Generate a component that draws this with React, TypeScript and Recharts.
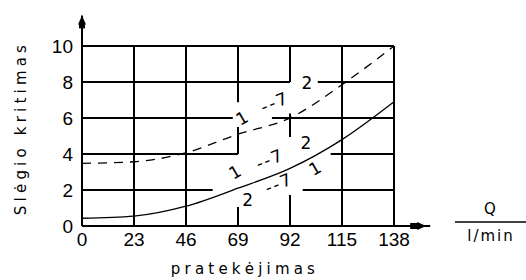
import React from "react";
import { LineChart, Line, XAxis, YAxis, ReferenceLine, ReferenceDot } from "recharts";

// Flow Q (l/min) categories and tick labels
const flowTicks = [0, 23, 46, 69, 92, 115, 138];
const pressureTicks = [0, 2, 4, 6, 8, 10];
const pressureTickLabels = ["0", "2", "4", "6", "8", "10"];

// Pressure drop curves
const curveSolid = [0.43, 0.55, 1.1, 2.1, 3.2, 4.8, 6.9];
const curveDashed = [3.48, 3.57, 4.07, 5.1, 6.0, 7.85, 10];

// Flow-direction annotations (label text and data-space anchors)
const annoText = ["1", "--7", "2", "1", "--7", "2", "1", "--7", "2"];
const annoQ = [70.7, 85.3, 99.5, 67.6, 83.1, 99.0, 103, 87.1, 73.3];
const annoP = [6.0, 6.88, 7.93, 3.0, 3.72, 4.6, 3.2, 2.38, 1.44];
const annoAngle = [-30, -22, 0, -30, -22, 0, -30, -22, 0];

// Hand-drawn grid pieces in data units: [value, from, to]
const hGrid = [
  [10, 0, 138], [8, 0, 92], [8, 104.3, 138], [6, 0, 66.7], [6, 84.0, 138],
  [4, 0, 69], [4, 110, 138], [2, 0, 57.8], [2, 97.6, 138],
];
const vGrid = [
  [23, 0, 10], [46, 0, 10], [69, 6.88, 10], [69, 4, 5.5], [69, 0, 1.05],
  [92, 8, 10], [92, 4.94, 6.25], [92, 0, 1.72], [115, 0, 10], [138, 0, 10],
];

const data = flowTicks.map((q, i) => ({ q, solid: curveSolid[i], dashed: curveDashed[i] }));

const tickStyle = { fill: "#000", fontFamily: "Liberation Sans", fontSize: 19 };
const labelFont = { fontFamily: "DejaVu Sans", fontSize: 15, letterSpacing: 4.2 };

const ArrowUp = (p: any) => (
  <g>
    <line x1={p.x1} y1={p.y1} x2={p.x2} y2={p.y2} stroke="#000" strokeWidth={2} />
    <polygon points={`${p.x2},${p.y2} ${p.x2 - 4},${p.y2 + 9} ${p.x2 + 4},${p.y2 + 9}`} fill="#000" />
    <rect x={p.x2 - 3} y={p.y2 + 7} width={6} height={6} fill="#000" />
  </g>
);

const ArrowRight = (p: any) => (
  <g>
    <line x1={p.x1} y1={p.y1} x2={p.x2} y2={p.y2} stroke="#000" strokeWidth={2} />
    <polygon points={`${p.x2 - 4},${p.y2} ${p.x2 - 13},${p.y2 - 4} ${p.x2 - 13},${p.y2 + 4}`} fill="#000" />
    <rect x={p.x2 - 20} y={p.y2 - 3} width={9} height={6} fill="#000" />
  </g>
);

export default function App() {
  return (
    <div style={{ position: "absolute", left: 0, top: 0, width: 526, height: 280, background: "#fff" }}>
      <LineChart width={526} height={280} data={data} margin={{ top: 46, right: 132, bottom: 24, left: 22 }}>
        <XAxis
          dataKey="q"
          type="number"
          domain={[0, 138]}
          ticks={flowTicks}
          axisLine={false}
          tickLine={false}
          tickSize={0}
          tickMargin={7}
          height={30}
          tick={tickStyle}
          interval={0}
        />
        <YAxis
          type="number"
          domain={[0, 10]}
          ticks={pressureTicks}
          tickFormatter={(v: number) => pressureTickLabels[pressureTicks.indexOf(v)]}
          axisLine={false}
          tickLine={false}
          tickSize={0}
          tickMargin={9}
          width={60}
          tick={tickStyle}
          interval={0}
        />
        {hGrid.map((g, i) => (
          <ReferenceLine key={"h" + i} segment={[{ x: g[1], y: g[0] }, { x: g[2], y: g[0] }]} stroke="#000" strokeWidth={2} ifOverflow="visible" />
        ))}
        {vGrid.map((g, i) => (
          <ReferenceLine key={"v" + i} segment={[{ x: g[0], y: g[1] }, { x: g[0], y: g[2] }]} stroke="#000" strokeWidth={2} ifOverflow="visible" />
        ))}
        <ReferenceLine segment={[{ x: 0, y: 0 }, { x: 0, y: 11.7 }]} ifOverflow="visible" shape={ArrowUp} />
        <ReferenceLine segment={[{ x: 0, y: 0 }, { x: 154, y: 0 }]} ifOverflow="visible" shape={ArrowRight} />
        <Line dataKey="dashed" type="monotone" stroke="#000" strokeWidth={1.3} strokeDasharray="9 7" dot={false} isAnimationActive={false} />
        <Line dataKey="solid" type="monotone" stroke="#000" strokeWidth={1.3} dot={false} isAnimationActive={false} />
        {annoText.map((t, i) => (
          <ReferenceDot
            key={"a" + i}
            x={annoQ[i]}
            y={annoP[i]}
            r={0}
            ifOverflow="visible"
            shape={(p: any) => (
              <text
                x={p.cx}
                y={p.cy}
                textAnchor="middle"
                dominantBaseline="central"
                fontFamily="DejaVu Sans"
                fontSize={17}
                letterSpacing={t.length > 1 ? 2 : 0}
                fill="#000"
                transform={`rotate(${annoAngle[i]} ${p.cx} ${p.cy})`}
              >
                {t}
              </text>
            )}
          />
        ))}
      </LineChart>
      <svg width={526} height={280} style={{ position: "absolute", left: 0, top: 0, pointerEvents: "none" }}>
        <text x={21} y={128} textAnchor="middle" dominantBaseline="central" transform="rotate(-90 21 128)" fill="#000" style={labelFont}>
          Slėgio kritimas
        </text>
        <text x={245} y={274} textAnchor="middle" fill="#000" style={labelFont}>
          pratekėjimas
        </text>
        <text x={490} y={214} textAnchor="middle" fill="#000" style={{ fontFamily: "DejaVu Sans", fontSize: 15 }}>Q</text>
        <line x1={455} y1={222} x2={526} y2={222} stroke="#000" strokeWidth={1.5} />
        <text x={491} y={241} textAnchor="middle" fill="#000" style={{ fontFamily: "DejaVu Sans", fontSize: 15, letterSpacing: 2 }}>l/min</text>
      </svg>
    </div>
  );
}
